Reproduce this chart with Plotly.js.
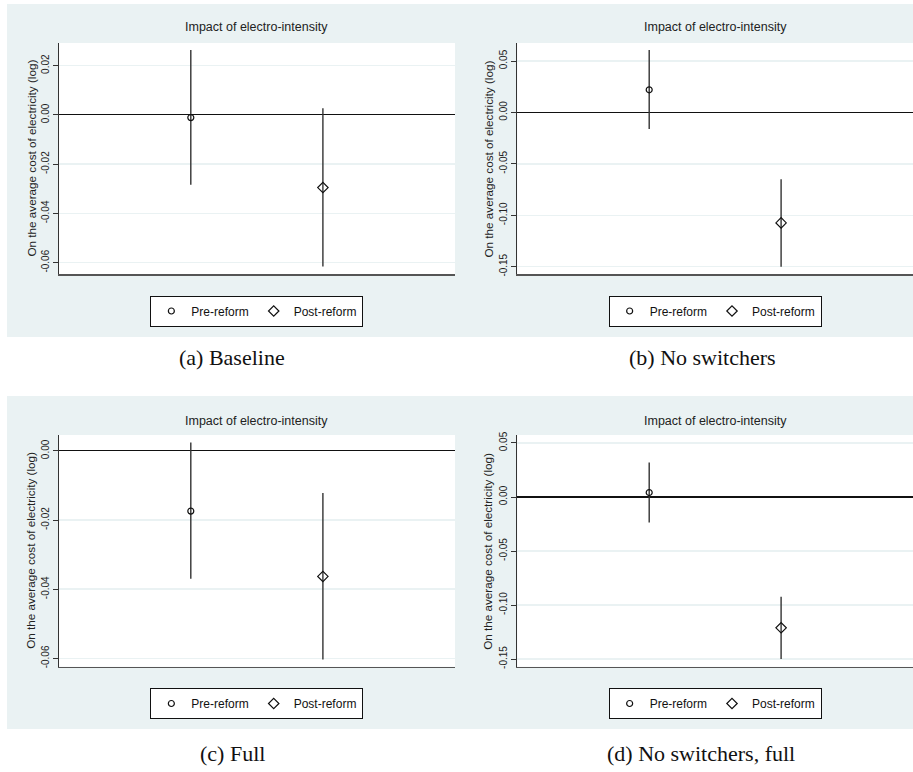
<!DOCTYPE html>
<html>
<head>
<meta charset="utf-8">
<script src="https://cdn.plot.ly/plotly-3.0.1.min.js"></script>
<style>
  html, body { margin: 0; padding: 0; background: #ffffff; }
  #chart { width: 913px; height: 772px; }
</style>
</head>
<body>
<div id="chart"></div>
<script>
// ---------------- DATA ----------------
const categories = ['Pre-reform', 'Post-reform'];
const categoryX = [1, 2];
const panelCaptions = ['(a) Baseline', '(b) No switchers', '(c) Full', '(d) No switchers, full'];
const panelTitle = 'Impact of electro-intensity';
const yAxisTitle = 'On the average cost of electricity (log)';

// (a) Baseline
const estBaseline = [-0.0011, -0.0295];
const lowBaseline = [-0.0284, -0.0616];
const highBaseline = [0.0264, 0.0027];
// (b) No switchers
const estNoSwitchers = [0.0220, -0.1074];
const lowNoSwitchers = [-0.0160, -0.1500];
const highNoSwitchers = [0.0606, -0.0649];
// (c) Full
const estFull = [-0.0174, -0.0363];
const lowFull = [-0.0370, -0.0603];
const highFull = [0.0024, -0.0122];
// (d) No switchers, full
const estNoSwFull = [0.0041, -0.1211];
const lowNoSwFull = [-0.0237, -0.1500];
const highNoSwFull = [0.0319, -0.0923];

// tick values / labels
const tickValsSmall = [-0.06, -0.04, -0.02, 0.00, 0.02];
const tickTextSmall = ['-0.06', '-0.04', '-0.02', '0.00', '0.02'];
const tickValsLarge = [-0.15, -0.10, -0.05, 0.00, 0.05];
const tickTextLarge = ['-0.15', '-0.10', '-0.05', '0.00', '0.05'];

// axis ranges
const yRangeA = [-0.0646, 0.0292];
const yRangeB = [-0.1571, 0.0675];
const yRangeC = [-0.0624, 0.0046];
const yRangeD = [-0.1571, 0.0574];
const xRange = [0, 3];

// ---------------- LAYOUT HELPERS ----------------
const W = 913, H = 772;
const px = v => v / W;
const py = v => 1 - v / H;

const panels = [
  { est: estBaseline,   low: lowBaseline,   high: highBaseline,   yr: yRangeA, tv: tickValsSmall, tt: tickTextSmall,
    bg: [7, 455, 4, 337],   plot: [58.7, 455, 43, 274],  titleY: 27,  legendY: 311,  capY: 357 },
  { est: estNoSwitchers, low: lowNoSwitchers, high: highNoSwitchers, yr: yRangeB, tv: tickValsLarge, tt: tickTextLarge,
    bg: [455, 913, 4, 337], plot: [517.3, 913, 43, 274], titleY: 27,  legendY: 311,  capY: 357 },
  { est: estFull,       low: lowFull,       high: highFull,       yr: yRangeC, tv: tickValsSmall, tt: tickTextSmall,
    bg: [7, 455, 396, 729], plot: [58.7, 455, 435, 666.7], titleY: 420.7, legendY: 703.5, capY: 753 },
  { est: estNoSwFull,   low: lowNoSwFull,   high: highNoSwFull,   yr: yRangeD, tv: tickValsLarge, tt: tickTextLarge,
    bg: [455, 913, 396, 729], plot: [517.3, 913, 435, 666.7], titleY: 420.7, legendY: 703.5, capY: 753 }
];
const captionX = [232, 702, 232, 701];
const yTitleX = [31, 488, 31, 488];

const SANS = 'Liberation Sans, Arial, sans-serif';
const SERIF = 'Liberation Serif, Times New Roman, serif';
const symbols = ['circle-open', 'diamond-open'];
const symSizes = [6, 8];

const traces = [];
const layout = {
  width: W, height: H,
  margin: { l: 0, r: 0, t: 0, b: 0 },
  paper_bgcolor: '#ffffff',
  plot_bgcolor: 'rgba(0,0,0,0)',
  showlegend: true,
  shapes: [],
  annotations: []
};

panels.forEach((p, i) => {
  const n = i === 0 ? '' : String(i + 1);
  const xa = 'x' + n, ya = 'y' + n;
  const legName = 'legend' + n;

  categories.forEach((cat, c) => {
    traces.push({
      type: 'scatter', mode: 'markers',
      name: cat,
      x: [categoryX[c]], y: [p.est[c]],
      xaxis: xa, yaxis: ya,
      legend: legName,
      showlegend: true,
      marker: { symbol: symbols[c], size: symSizes[c], color: '#111', line: { color: '#111', width: 1.2 } },
      error_y: {
        type: 'data', symmetric: false,
        array: [p.high[c] - p.est[c]],
        arrayminus: [p.est[c] - p.low[c]],
        width: 0, thickness: 1.4, color: '#333'
      },
      hoverinfo: 'skip'
    });
  });

  layout['xaxis' + n] = {
    domain: [px(p.plot[0]), px(p.plot[1])],
    range: xRange, anchor: ya,
    showgrid: false, zeroline: false, showticklabels: false, ticks: '',
    showline: true, linecolor: '#555', linewidth: 1.6, fixedrange: true
  };
  layout['yaxis' + n] = {
    domain: [py(p.plot[3]), py(p.plot[2])],
    range: p.yr, anchor: xa,
    tickmode: 'array', tickvals: p.tv, ticktext: p.tt,
    tickangle: -90,
    ticks: 'outside', ticklen: 5, tickwidth: 1, tickcolor: '#333',
    tickfont: { family: SANS, size: 10, color: '#222' },
    showline: true, linecolor: '#333', linewidth: 1.2,
    showgrid: true, gridcolor: '#eaf2f3', gridwidth: 1.5,
    zeroline: true, zerolinecolor: '#111', zerolinewidth: 1.1,
    fixedrange: true
  };

  // panel background
  layout.shapes.push({
    type: 'rect', xref: 'paper', yref: 'paper', layer: 'below',
    x0: px(p.bg[0]), x1: px(p.bg[1]), y0: py(p.bg[3]), y1: py(p.bg[2]),
    fillcolor: '#eaf2f3', line: { width: 0 }
  });

  // legend
  layout[legName] = {
    orientation: 'h',
    x: px((p.plot[0] + p.plot[1]) / 2), xanchor: 'center',
    y: py(p.legendY), yanchor: 'middle',
    xref: 'paper', yref: 'paper',
    bgcolor: '#ffffff', bordercolor: '#111', borderwidth: 1,
    font: { family: SANS, size: 12, color: '#111' },
    itemwidth: 30, tracegroupgap: 0
  };

  // title
  layout.annotations.push({
    text: panelTitle, xref: 'paper', yref: 'paper',
    x: px((p.plot[0] + p.plot[1]) / 2), y: py(p.titleY),
    xanchor: 'center', yanchor: 'middle', showarrow: false,
    font: { family: SANS, size: 12.5, color: '#222' }
  });
  // y-axis title
  layout.annotations.push({
    text: yAxisTitle, xref: 'paper', yref: 'paper',
    x: px(yTitleX[i]), y: py((p.plot[2] + p.plot[3]) / 2),
    xanchor: 'center', yanchor: 'middle', showarrow: false, textangle: -90,
    font: { family: SANS, size: 11.7, color: '#222' }
  });
  // caption
  layout.annotations.push({
    text: panelCaptions[i], xref: 'paper', yref: 'paper',
    x: px(captionX[i]), y: py(p.capY),
    xanchor: 'center', yanchor: 'middle', showarrow: false,
    font: { family: SERIF, size: 22, color: '#111' }
  });
});

// white plot regions drawn after all panel backgrounds
panels.forEach(p => {
  layout.shapes.push({
    type: 'rect', xref: 'paper', yref: 'paper', layer: 'below',
    x0: px(p.plot[0]), x1: px(p.plot[1]), y0: py(p.plot[3]), y1: py(p.plot[2]),
    fillcolor: '#ffffff', line: { width: 0 }
  });
});

Plotly.newPlot('chart', traces, layout, { staticPlot: true, displayModeBar: false });
</script>
</body>
</html>
